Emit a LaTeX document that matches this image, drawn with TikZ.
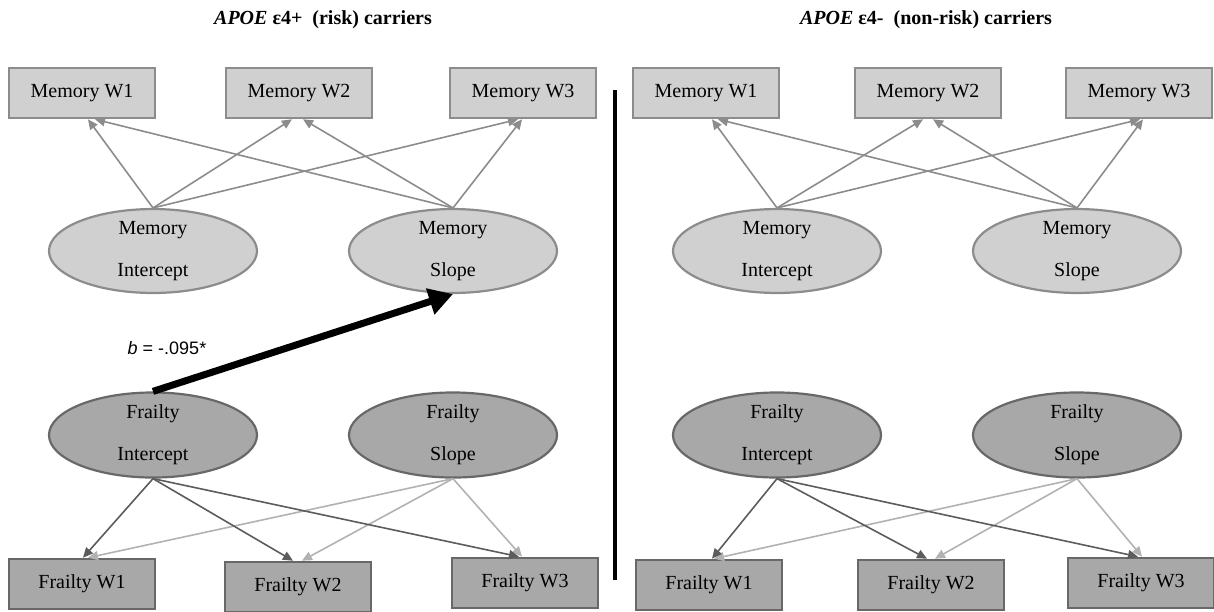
\documentclass[tikz,border=0pt]{standalone}
\usepackage{fontspec}
\setmainfont{Liberation Serif}
\newfontfamily\labelsans{Liberation Sans}
\usetikzlibrary{shapes.geometric,arrows.meta,calc}

\definecolor{memfill}{RGB}{208,208,208}
\definecolor{memedge}{RGB}{140,140,140}
\definecolor{frfill}{RGB}{168,168,168}
\definecolor{fredge}{RGB}{104,104,104}
\definecolor{memline}{RGB}{140,140,140}
\definecolor{intline}{RGB}{92,92,92}
\definecolor{slpline}{RGB}{178,178,178}

\tikzset{
  obsbox/.style={rectangle, line width=2.6pt, minimum width=146pt, minimum height=50pt,
    inner sep=0pt, font=\fontsize{20}{24}\selectfont},
  membox/.style={obsbox, draw=memedge, fill=memfill},
  frbox/.style={obsbox, draw=fredge, fill=frfill},
  latent/.style={ellipse, line width=2.2pt, minimum width=208pt, minimum height=82pt,
    inner sep=0pt, align=center, font=\fontsize{20}{42}\selectfont},
  memlat/.style={latent, draw=memedge, fill=memfill},
  frlat/.style={latent, draw=fredge, fill=frfill},
  tip/.style={-{Triangle[length=10pt,width=9pt]}},
  memarrow/.style={tip, draw=memline, fill=memline, line width=1.6pt},
  intarrow/.style={tip, draw=intline, fill=intline, line width=1.6pt},
  slparrow/.style={tip, draw=slpline, fill=slpline, line width=1.6pt},
  paneltitle/.style={font=\fontsize{20}{24}\selectfont\bfseries},
}

\begin{document}
\begin{tikzpicture}[x=1pt,y=-1pt]
\useasboundingbox (0,0) rectangle (1214,611);

% ---------- risk carriers ----------
\node[paneltitle] (t1) at (323,20) {\textit{APOE} ε4+ \ (risk) carriers};

\node[membox] (mw1) at (82,93)  {Memory W1};
\node[membox] (mw2) at (299,93) {Memory W2};
\node[membox] (mw3) at (523,93) {Memory W3};

\node[memlat] (mi) at (153,251) {Memory\\Intercept};
\node[memlat] (ms) at (453,251) {Memory\\Slope};

\node[frlat] (fi) at (153,435) {Frailty\\Intercept};
\node[frlat] (fs) at (453,435) {Frailty\\Slope};

\node[frbox] (fw1) at (82,584)  {Frailty W1};
\node[frbox] (fw2) at (298,587) {Frailty W2};
\node[frbox] (fw3) at (525,583) {Frailty W3};

\draw[memarrow] (mi.north) -- ($(mw1.south)+(6,0)$);
\draw[memarrow] (mi.north) -- ($(mw2.south)+(-7,0)$);
\draw[memarrow] (mi.north) -- ($(mw3.south)+(-5,0)$);
\draw[memarrow] (ms.north) -- ($(mw1.south)+(13,0)$);
\draw[memarrow] (ms.north) -- ($(mw2.south)+(4,0)$);
\draw[memarrow] (ms.north) -- ($(mw3.south)+(-1,0)$);

\draw[slparrow] (fs.south) -- ($(fw1.north)+(6,0)$);
\draw[slparrow] (fs.south) -- ($(fw2.north)+(4,0)$);
\draw[slparrow] (fs.south) -- ($(fw3.north)+(-3,0)$);
\draw[intarrow] (fi.south) -- ($(fw1.north)+(1,0)$);
\draw[intarrow] (fi.south) -- ($(fw2.north)+(-5,0)$);
\draw[intarrow] (fi.south) -- ($(fw3.north)+(-6,0)$);

\draw[line width=7pt, -{Triangle[length=24pt,width=26pt]}] (fi.north) -- (ms.south);
\node[font=\labelsans\fontsize{18}{22}\selectfont] (coef) at (167,348) {\textit{b} = -.095*};

% ---------- divider ----------
\coordinate (dtop) at (615,90);
\coordinate (dbot) at (615,580);
\draw[line width=4pt] (dtop) -- (dbot);

% ---------- non-risk carriers ----------
\node[paneltitle] (t2) at (926,20) {\textit{APOE} ε4- \ (non-risk) carriers};

\node[membox] (rmw1) at (706,93)  {Memory W1};
\node[membox] (rmw2) at (928,93)  {Memory W2};
\node[membox] (rmw3) at (1139,93) {Memory W3};

\node[memlat] (rmi) at (777,251)  {Memory\\Intercept};
\node[memlat] (rms) at (1077,251) {Memory\\Slope};

\node[frlat] (rfi) at (777,435)  {Frailty\\Intercept};
\node[frlat] (rfs) at (1077,435) {Frailty\\Slope};

\node[frbox] (rfw1) at (709,585)  {Frailty W1};
\node[frbox] (rfw2) at (931,585)  {Frailty W2};
\node[frbox] (rfw3) at (1141,583) {Frailty W3};

\draw[memarrow] (rmi.north) -- ($(rmw1.south)+(6,0)$);
\draw[memarrow] (rmi.north) -- ($(rmw2.south)+(-5,0)$);
\draw[memarrow] (rmi.north) -- ($(rmw3.south)+(1,0)$);
\draw[memarrow] (rms.north) -- ($(rmw1.south)+(12,0)$);
\draw[memarrow] (rms.north) -- ($(rmw2.south)+(5,0)$);
\draw[memarrow] (rms.north) -- ($(rmw3.south)+(4,0)$);

\draw[slparrow] (rfs.south) -- ($(rfw1.north)+(5,0)$);
\draw[slparrow] (rfs.south) -- ($(rfw2.north)+(4,0)$);
\draw[slparrow] (rfs.south) -- ($(rfw3.north)+(1,0)$);
\draw[intarrow] (rfi.south) -- ($(rfw1.north)+(3,0)$);
\draw[intarrow] (rfi.south) -- ($(rfw2.north)+(-4,0)$);
\draw[intarrow] (rfi.south) -- ($(rfw3.north)+(-3,0)$);
\end{tikzpicture}
\end{document}
